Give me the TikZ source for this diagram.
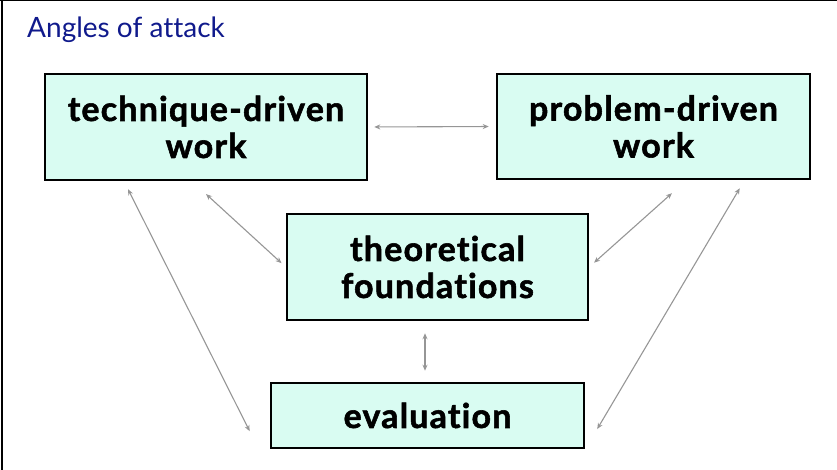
\documentclass[tikz,border=0pt]{standalone}
\usepackage{fontspec}
\setmainfont{Lato}[Ligatures={NoCommon,NoDiscretionary}, Contextuals={NoAlternate}, BoldFeatures={FakeBold=1.6, LetterSpace=3.5}]
\usepackage{tikz}
\usetikzlibrary{positioning,arrows.meta}

\definecolor{boxfill}{RGB}{217,252,242}
\definecolor{linkgray}{RGB}{150,150,150}
\definecolor{titleblue}{RGB}{16,26,140}

\begin{document}
\begin{tikzpicture}[x=1pt, y=1pt,
    box/.style = {draw=black, line width=2.5pt, fill=boxfill, align=center,
      font=\fontsize{34}{37}\selectfont\bfseries, inner sep=0pt},
    link/.style = {draw=linkgray, line width=1.1pt, {Stealth[length=6pt,width=5pt]}-{Stealth[length=6pt,width=5pt]}}]
    \useasboundingbox (0,0) rectangle (837,470);
    \draw[line width=2.5pt] (2,0) -- (2,469.3);
    \draw[line width=1.5pt] (0,469.3) -- (837,469.3);
    \node[anchor=base west, text=titleblue, font=\fontsize{28}{32}\selectfont, inner sep=0pt] (title) at (27,432) {Angles of attack};
    \node[box, minimum width=322pt, minimum height=106pt] (tech) at (206,343) {technique-driven\\work};
    \node[box, minimum width=313pt, minimum height=105pt] (prob) at (653.5,343.5) {problem-driven\\work};
    \node[box, minimum width=301pt, minimum height=106pt] (theo) at (437.5,203) {theoretical\\foundations};
    \node[box, minimum width=313pt, minimum height=65pt] (eval) at (427.5,54.5) {evaluation};
    \draw[link, shorten <=6pt, shorten >=7pt] (tech.east) -- (prob.west);
    \draw[link, shorten <=19pt, shorten >=5.7pt] ([xshift=-14pt]tech.south) -- (theo.west);
    \draw[link, shorten <=8.9pt, shorten >=20.2pt] ([xshift=-82pt]tech.south) -- ([xshift=-11pt]eval.south west);
    \draw[link, shorten <=19.5pt, shorten >=6.4pt] ([xshift=33pt]prob.south) -- (theo.east);
    \draw[link, shorten <=9.3pt, shorten >=23.5pt] ([xshift=91pt]prob.south) -- (eval.south east);
    \draw[link, shorten <=12pt, shorten >=11pt] ([xshift=-12.5pt]theo.south) -- ([xshift=-2.5pt]eval.north);
\end{tikzpicture}
\end{document}
